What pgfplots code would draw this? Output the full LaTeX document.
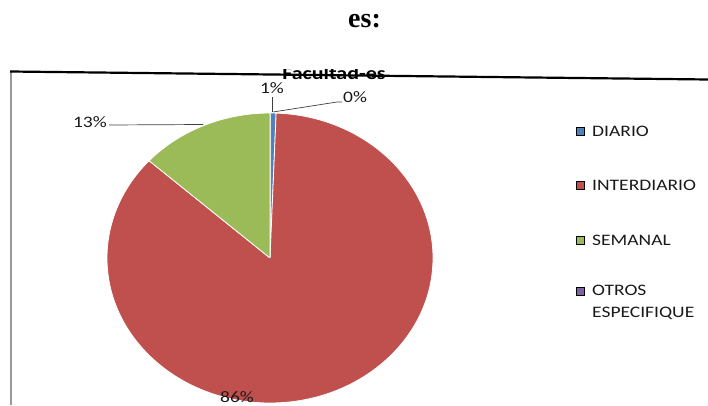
\documentclass[border=0pt]{standalone}
\usepackage{pgfplots}
\pgfplotsset{compat=1.18}
\usepackage{pgfplotstable}
\usepackage{fontspec}
\setmainfont{Carlito}
\newfontfamily\calibri[FakeStretch=1.22]{Carlito}
\newfontfamily\titlefont{Liberation Serif}
\definecolor{pieblue}{HTML}{4F81BD}
\definecolor{piered}{HTML}{C0504D}
\definecolor{piegreen}{HTML}{9BBB59}
\definecolor{piepurple}{HTML}{8064A2}
\definecolor{labeltext}{HTML}{1A1A1A}
\definecolor{leader}{HTML}{404040}

% slice value (%), start angle (clockwise from top), colour index, centre
\pgfplotstableread{
name value start idx cx cy
DIARIO 0.6 90 0 270 147
INTERDIARIO 86.1 87.84 1 270 147
SEMANAL 13.3 -222.12 2 270 147
OTROS 0 -270 3 270 147
}\pietable

\begin{document}
\begin{tikzpicture}[x=1pt, y=1pt]
\begin{axis}[
  at={(0,0)}, anchor=south west,
  width=708pt, height=405pt, scale only axis,
  xmin=0, xmax=708, ymin=0, ymax=405,
  hide axis, clip=false,
  every node/.style={inner sep=0pt},
]
\addplot[scatter, only marks, mark=*, mark size=0.01pt, mark options={draw=none, fill=none},
  visualization depends on={\thisrow{value} \as \val},
  visualization depends on={\thisrow{start} \as \startang},
  visualization depends on={\thisrow{idx} \as \sliceidx},
  scatter/@pre marker code/.code={%
    \pgfmathsetmacro\endang{\startang-3.6*\val}%
    \pgfmathtruncatemacro\ci{\sliceidx}%
    \ifcase\ci\def\slicecol{pieblue}\or\def\slicecol{piered}\or\def\slicecol{piegreen}\else\def\slicecol{piepurple}\fi
    \fill[fill=\slicecol, draw=white, line width=0.8pt, line join=round] (0,0) -- (\startang:163pt and 145pt) arc[start angle=\startang, end angle=\endang, x radius=163pt, y radius=145pt] -- cycle;
    \pgfscope},
  scatter/@post marker code/.code={\endpgfscope},
] table[x=cx, y=cy] {\pietable};

% leader lines
\addplot[leader, line width=0.7pt] coordinates {(272,308) (272,293)};
\addplot[leader, line width=0.7pt] coordinates {(273,293) (337,303) (342,303)};
\addplot[leader, line width=0.7pt] coordinates {(109,280) (203,280.5)};

% chart border lines
\addplot[black!40, line width=1.5pt] coordinates {(11,333) (11,0)};

% legend squares
\addplot[only marks, mark=square*, mark size=4pt, mark options={fill=pieblue, draw=none}] coordinates {(580,274)};
\addplot[only marks, mark=square*, mark size=4pt, mark options={fill=piered, draw=none}] coordinates {(580,220)};
\addplot[only marks, mark=square*, mark size=4pt, mark options={fill=piegreen, draw=none}] coordinates {(580,165)};
\addplot[only marks, mark=square*, mark size=4pt, mark options={fill=piepurple, draw=none}] coordinates {(580,114)};
\end{axis}

% text (1 axis unit = 1pt, axis origin at (0,0))
\tikzset{every node/.style={inner sep=0pt}}
\node[anchor=base, font=\calibri\fontsize{16}{18}\selectfont, text=labeltext] at (272,312) {1\%};
\node[anchor=base west, font=\calibri\fontsize{16}{18}\selectfont, text=labeltext] at (343,302) {0\%};
\node[anchor=base east, font=\calibri\fontsize{16}{18}\selectfont, text=labeltext] at (107,278) {13\%};
\node[anchor=base, font=\calibri\fontsize{16}{18}\selectfont, text=labeltext] at (237,3) {86\%};

\begin{scope}
\clip (0,0) rectangle (708,335.5);
\node[anchor=base, font=\calibri\bfseries\fontsize{18}{20}\selectfont] at (334,325.5) {Facultad-es};
\end{scope}
\draw[black, line width=2.2pt] (10,333.5) -- (708,325.5);

\node[anchor=base west, font=\calibri\fontsize{16}{18}\selectfont, text=labeltext] at (592,269) {DIARIO};
\node[anchor=base west, font=\calibri\fontsize{16}{18}\selectfont, text=labeltext] at (592,215) {INTERDIARIO};
\node[anchor=base west, font=\calibri\fontsize{16}{18}\selectfont, text=labeltext] at (592,160) {SEMANAL};
\node[anchor=base west, font=\calibri\fontsize{16}{18}\selectfont, text=labeltext] at (592,110) {OTROS};
\node[anchor=base west, font=\calibri\fontsize{16}{18}\selectfont, text=labeltext] at (592,88) {ESPECIFIQUE};

\node[anchor=base, font=\titlefont\bfseries\fontsize{28}{30}\selectfont] at (364.5,377) {es:};

\pgfresetboundingbox
\path[use as bounding box] (0,0) rectangle (708,405);
\end{tikzpicture}
\end{document}
